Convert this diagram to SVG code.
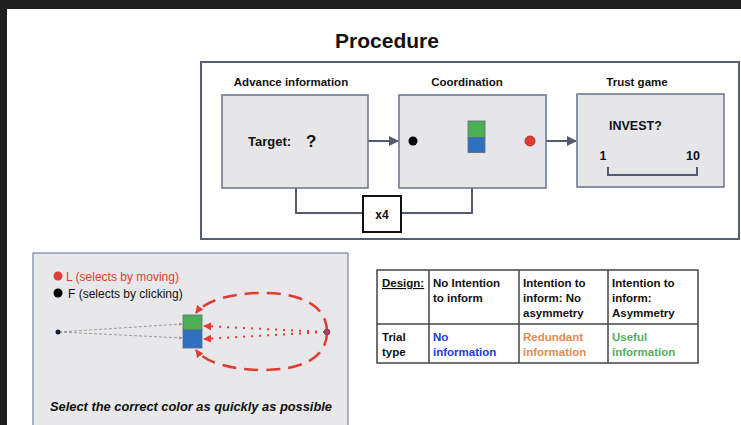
<svg xmlns="http://www.w3.org/2000/svg" width="741" height="425" viewBox="0 0 741 425">
<style>
text{font-family:"Liberation Sans",Arial,sans-serif;fill:#111}
.b{font-weight:bold}
.box{fill:#e6e6e8;stroke:#6b7290;stroke-width:1.5}
.conn{fill:none;stroke:#555b6e;stroke-width:2}
.tb{fill:none;stroke:#444;stroke-width:1.5}
.t{font-size:11.5px;font-weight:bold}
</style>
<defs>
<marker id="ah" viewBox="0 0 10 10" refX="9" refY="5" markerWidth="5" markerHeight="5" orient="auto"><path d="M0,0 L10,5 L0,10 z" fill="#555b6e"/></marker>
<marker id="ag" viewBox="0 0 10 10" refX="9" refY="5" markerWidth="3.5" markerHeight="3.5" orient="auto" markerUnits="userSpaceOnUse"><path d="M0,0 L10,5 L0,10 z" fill="#9a9a9a"/></marker>
<marker id="ar" viewBox="0 0 10 10" refX="9" refY="5" markerWidth="8" markerHeight="8" orient="auto" markerUnits="userSpaceOnUse"><path d="M0,0 L10,5 L0,10 z" fill="#e03c31"/></marker>
</defs>
<rect width="741" height="425" fill="#fff"/>
<rect x="0" y="0" width="741" height="9" fill="#1f1f1f"/>
<rect x="0" y="0" width="7" height="425" fill="#1f1f1f"/>
<text x="387" y="48" class="b" font-size="21" text-anchor="middle">Procedure</text>

<rect x="201" y="62" width="538" height="177" fill="#fff" stroke="#585d70" stroke-width="2"/>

<g id="connectors">
<line x1="368" y1="141" x2="398" y2="141" class="conn" marker-end="url(#ah)"/>
<line x1="546" y1="141" x2="576" y2="141" class="conn" marker-end="url(#ah)"/>
<polyline points="296,188 296,213 363,213" class="conn"/>
<polyline points="401,213 472,213 472,188" class="conn"/>
</g>

<g id="advance">
<text x="291" y="86" class="b" font-size="11.5" text-anchor="middle">Advance information</text>
<rect x="222" y="95" width="146" height="93" class="box"/>
<text x="248" y="146" class="b" font-size="13">Target:</text>
<text x="306" y="147" class="b" font-size="17">?</text>
</g>

<g id="coordination">
<text x="467" y="86" class="b" font-size="11.5" text-anchor="middle">Coordination</text>
<rect x="399" y="95" width="147" height="93" class="box"/>
<circle cx="413" cy="141" r="4.5" fill="#000"/>
<circle cx="530" cy="141" r="5" fill="#e53a35" stroke="#a02020" stroke-width="0.8"/>
<rect x="468" y="121" width="17" height="16.5" fill="#4caf56" stroke="#5d6a80" stroke-width="0.8"/>
<rect x="468" y="137.5" width="17" height="15" fill="#2f6fc0" stroke="#5d6a80" stroke-width="0.8"/>
</g>

<g id="trust">
<text x="637" y="86" class="b" font-size="11.5" text-anchor="middle">Trust game</text>
<rect x="577" y="94" width="147" height="93" class="box"/>
<text x="609" y="130" class="b" font-size="12.5">INVEST?</text>
<text x="603" y="160" class="b" font-size="12.5" text-anchor="middle">1</text>
<text x="693" y="160" class="b" font-size="12.5" text-anchor="middle">10</text>
<polyline points="608,167 608,175 697,175 697,167" fill="none" stroke="#555b6e" stroke-width="2"/>
</g>

<g id="x4">
<rect x="363" y="196" width="38" height="36" fill="#fff" stroke="#111" stroke-width="2"/>
<text x="382" y="219" class="b" font-size="12" text-anchor="middle">x4</text>
</g>

<g id="task">
<rect x="33" y="253" width="315" height="180" fill="#e8e8ea" stroke="#7a82a0" stroke-width="1.2"/>
<circle cx="58" cy="276" r="4.5" fill="#e53a35"/>
<text x="66" y="280.5" font-size="12" style="fill:#e03c31">L (selects by moving)</text>
<circle cx="58" cy="293" r="4.5" fill="#000"/>
<text x="68" y="297.5" font-size="12">F (selects by clicking)</text>
<g stroke="#9a9a9a" stroke-width="1" stroke-dasharray="3,2">
<line x1="59" y1="332" x2="182" y2="324" marker-end="url(#ag)"/>
<line x1="59" y1="332" x2="182" y2="338" marker-end="url(#ag)"/>
</g>
<circle cx="58" cy="332" r="2.5" fill="#1a1a3a"/>
<rect x="183" y="315" width="19" height="15" fill="#4caf56" stroke="#5d6a80" stroke-width="0.8"/>
<rect x="183" y="330" width="19" height="18" fill="#2f6fc0" stroke="#5d6a80" stroke-width="0.8"/>
<g fill="none" stroke="#e03c31" stroke-width="2.5" stroke-dasharray="14,8">
<path d="M327,332 C327,304 298,293 263,293 C228,293 204,302 196,313" marker-end="url(#ar)"/>
<path d="M327,332 C327,360 298,370 263,370 C228,370 204,361 196,350" marker-end="url(#ar)"/>
</g>
<g fill="none" stroke="#e03c31" stroke-width="2" stroke-dasharray="2,6">
<line x1="325" y1="332" x2="204" y2="326" marker-end="url(#ar)"/>
<line x1="325" y1="332" x2="204" y2="339" marker-end="url(#ar)"/>
</g>
<circle cx="327" cy="332" r="3" fill="#c0394a" stroke="#5a4a8a" stroke-width="0.8"/>
<text x="50" y="411" class="b" font-size="13" font-style="italic" textLength="282" lengthAdjust="spacingAndGlyphs">Select the correct color as quickly as possible</text>
</g>

<g id="table">
<rect x="377" y="270" width="321" height="93" class="tb"/>
<line x1="377" y1="324" x2="698" y2="324" class="tb"/>
<line x1="429" y1="270" x2="429" y2="363" class="tb"/>
<line x1="519" y1="270" x2="519" y2="363" class="tb"/>
<line x1="608" y1="270" x2="608" y2="363" class="tb"/>
<text x="382" y="287" class="t" text-decoration="underline">Design:</text>
<text x="433" y="287" class="t">No Intention</text>
<text x="433" y="302" class="t">to inform</text>
<text x="523" y="287" class="t">Intention to</text>
<text x="523" y="302" class="t">inform: No</text>
<text x="523" y="317" class="t">asymmetry</text>
<text x="612" y="287" class="t">Intention to</text>
<text x="612" y="302" class="t">inform:</text>
<text x="612" y="317" class="t">Asymmetry</text>
<text x="382" y="341" class="t">Trial</text>
<text x="382" y="356" class="t">type</text>
<text x="433" y="341" class="t" style="fill:#2438d8">No</text>
<text x="433" y="356" class="t" style="fill:#2438d8">information</text>
<text x="523" y="341" class="t" style="fill:#e58a4e">Redundant</text>
<text x="523" y="356" class="t" style="fill:#e58a4e">information</text>
<text x="612" y="341" class="t" style="fill:#55b060">Useful</text>
<text x="612" y="356" class="t" style="fill:#55b060">information</text>
</g>
</svg>
